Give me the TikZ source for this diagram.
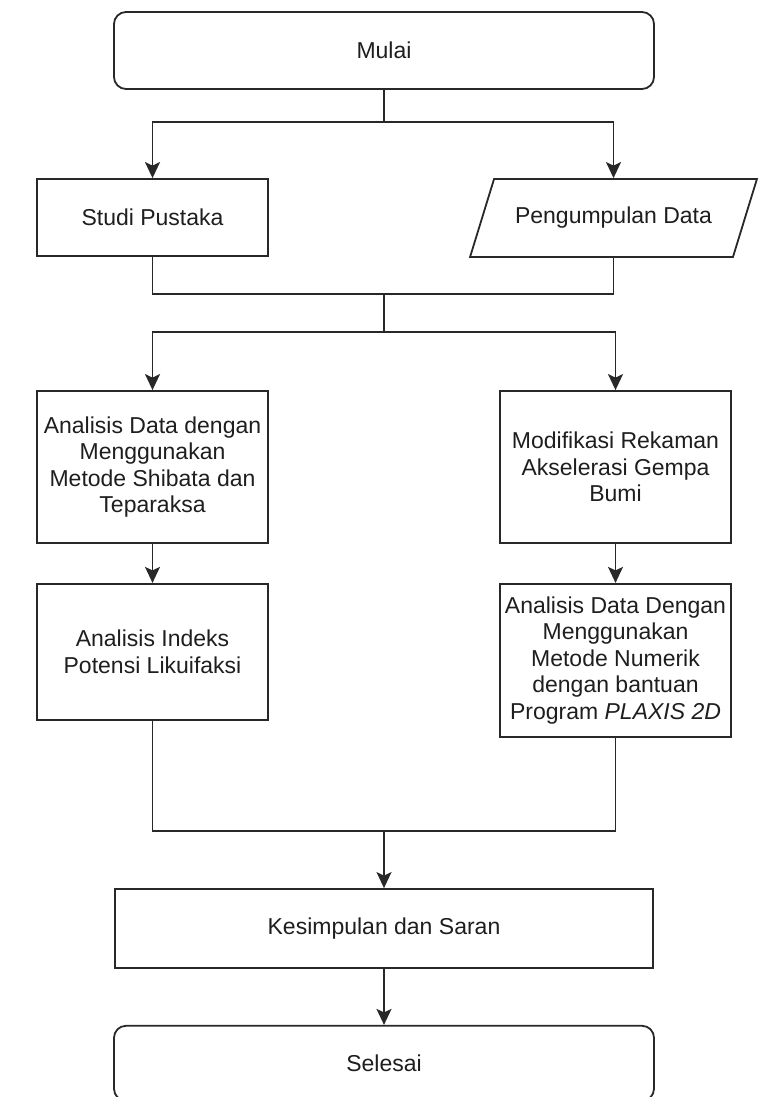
\documentclass[tikz,border=0pt]{standalone}
\usepackage{fontspec}
\setmainfont{Liberation Sans}
\usepackage{xcolor}
\usepackage{tikz}
\usetikzlibrary{positioning,arrows.meta,shapes.geometric}
\definecolor{cLine}{RGB}{40,40,40}
\definecolor{cText}{RGB}{30,30,30}

\begin{document}
\begin{tikzpicture}[x=1pt,y=-1pt,font=\fontsize{23}{26.5}\selectfont,node distance=39pt]
\tikzset{proc/.style={draw=cLine,line width=1.8pt,minimum width=231pt,align=center,text=cText,inner sep=2pt},
  term/.style={proc,rounded corners=12pt,minimum width=540pt,minimum height=77pt},
  iodata/.style={draw=cLine,line width=1.8pt,trapezium,trapezium left angle=54,trapezium right angle=126,trapezium stretches=true,minimum width=287pt,minimum height=78pt,text=cText},
  link/.style={draw=cLine,line width=1.8pt},
  arr/.style={link,-{Stealth[length=16pt,width=15pt,inset=3.5pt]}}}
\useasboundingbox (0,0) rectangle (771,1097);

\node[term] (mulai) at (384,50.5) {Mulai};
\node[proc,minimum height=77pt] (studi) at (152.5,217.5) {Studi Pustaka};
\node[iodata] (peng) at (613.5,218) {Pengumpulan Data};

\node[proc,minimum height=152pt] (shibata) at (152.5,467) {Analisis Data dengan\\Menggunakan\\Metode Shibata dan\\Teparaksa};
\node[proc,minimum height=136pt,below=of shibata] (indeks) {Analisis Indeks\\Potensi Likuifaksi};
\node[proc,minimum height=152pt] (modif) at (615.5,467) {Modifikasi Rekaman\\Akselerasi Gempa\\Bumi};
\node[proc,minimum height=153pt,below=of modif] (numerik) {Analisis Data Dengan\\Menggunakan\\Metode Numerik\\dengan bantuan\\Program \textit{PLAXIS 2D}};

\node[proc,minimum width=538pt,minimum height=79pt] (simpul) at (384,928.5) {Kesimpulan dan Saran};
\node[term,minimum height=75pt,below=56pt of simpul] (selesai) {Selesai};

% junctions
\coordinate (j1) at (384,122);
\coordinate (j2) at (384,294);
\coordinate (j3) at (384,332);
\coordinate (j4) at (384,831);

\draw[link] (mulai.south) -- (j1);
\draw[arr] (j1) -| (studi.north);
\draw[arr] (j1) -| (peng.north);
\draw[link] (studi.south) |- (j2) -| (peng.south);
\draw[link] (j2) -- (j3);
\draw[arr] (j3) -| (shibata.north);
\draw[arr] (j3) -| (modif.north);
\draw[arr] (shibata) -- (indeks);
\draw[arr] (modif) -- (numerik);
\draw[link] (indeks.south) |- (j4) -| (numerik.south);
\draw[arr] (j4) -- (simpul.north);
\draw[arr] (simpul) -- (selesai);
\end{tikzpicture}
\end{document}
